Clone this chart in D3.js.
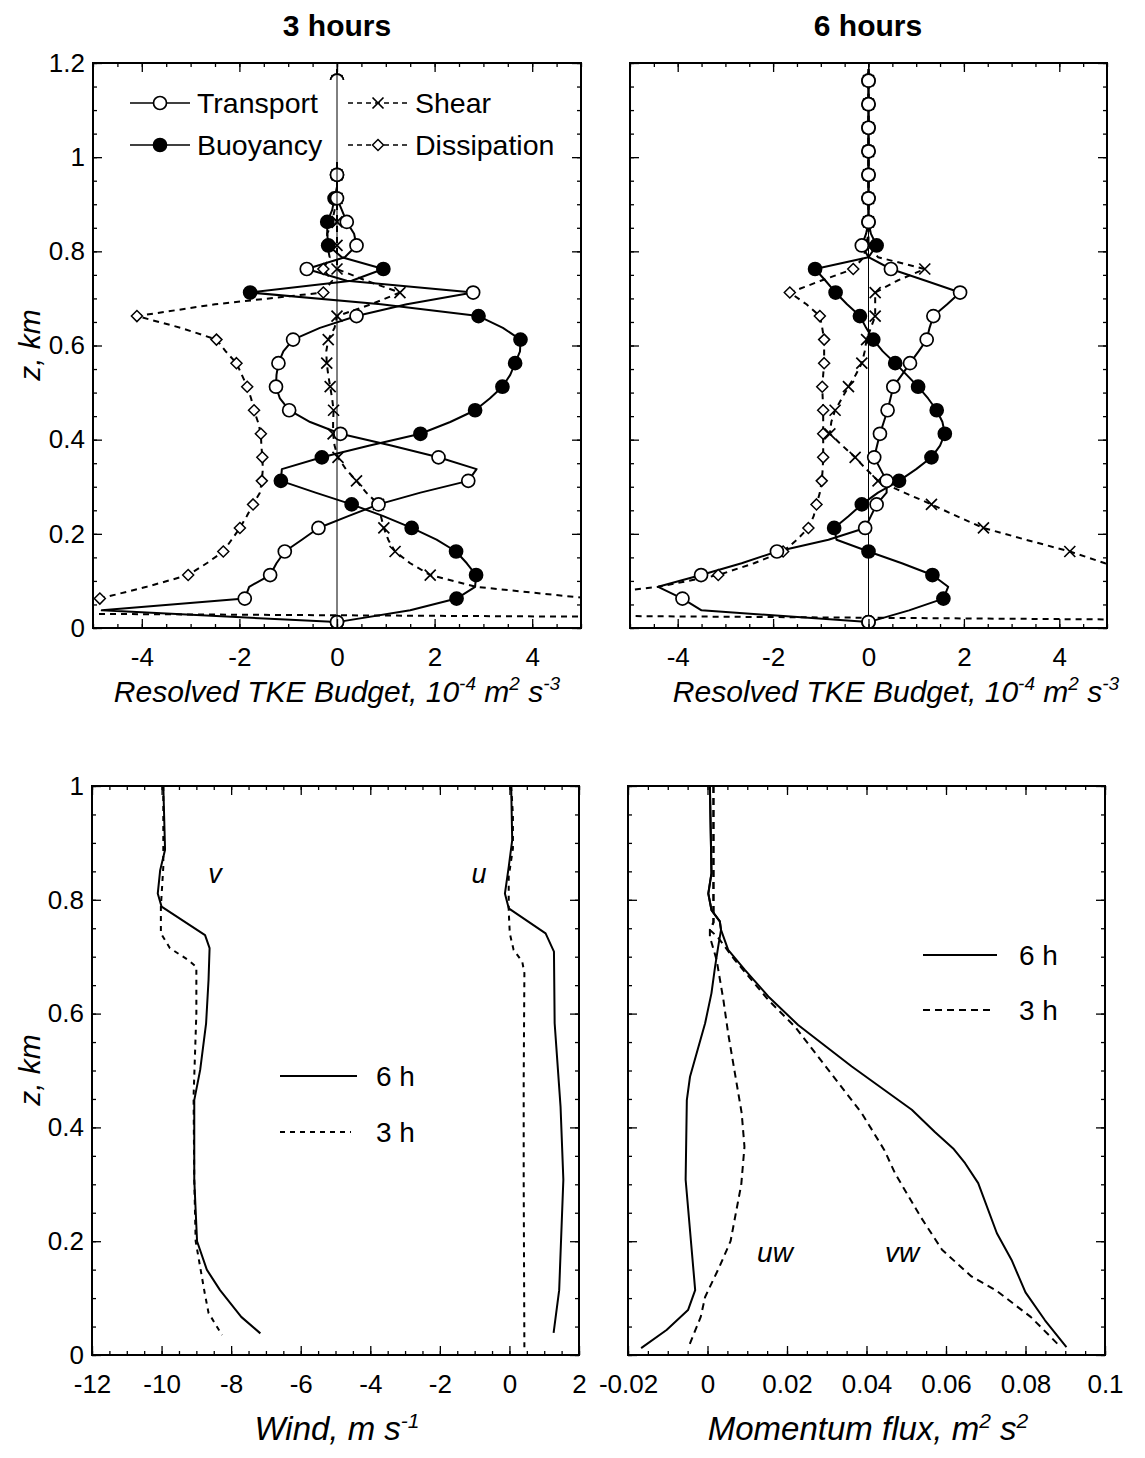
<!DOCTYPE html>
<html lang="en">
<head>
<meta charset="UTF-8">
<title>Resolved TKE budget, wind and momentum flux profiles</title>
<script src="https://d3js.org/d3.v7.min.js"></script>
<style>
  body { margin: 0; background: #fff; }
  svg { display: block; font-family: "Liberation Sans", Arial, Helvetica, sans-serif; }
  .tick text { font-size: 26px; fill: #000; }
  .tick line { stroke: #000; stroke-width: 1.3; }
</style>
</head>
<body>
<svg id="chart" width="1145" height="1458"></svg>
<script>
// ---- data -------------------------------------------------------------
// model levels (km) used by the TKE budget profiles, markers on every other level
const zLevels = [0.0125, 0.0375, 0.0625, 0.0875, 0.1125, 0.1375, 0.1625, 0.1875, 0.2125, 0.2375,
  0.2625, 0.2875, 0.3125, 0.3375, 0.3625, 0.3875, 0.4125, 0.4375, 0.4625, 0.4875,
  0.5125, 0.5375, 0.5625, 0.5875, 0.6125, 0.6375, 0.6625, 0.6875, 0.7125, 0.7375,
  0.7625, 0.7875, 0.8125, 0.8375, 0.8625, 0.8875, 0.9125, 0.9375, 0.9625, 0.9875,
  1.0125, 1.0375, 1.0625, 1.0875, 1.1125, 1.1375, 1.1625, 1.1875];

// 3 hours, 10^-4 m2 s-3
const transport3 = [0, -4.82, -1.89, -1.8, -1.37, -1.24, -1.07, -0.72, -0.38, 0.23,
  0.85, 1.71, 2.69, 2.86, 2.08, 1.11, 0.07, -0.55, -0.98, -1.17,
  -1.25, -1.24, -1.2, -1.1, -0.9, -0.35, 0.4, 1.43, 2.79, 0.2,
  -0.62, 0.16, 0.4, 0.35, 0.2, 0.1, 0, 0, 0, 0, 0, 0, 0, 0, 0, 0, 0, 0];
const buoyancy3 = [0, 1.5, 2.45, 2.83, 2.85, 2.66, 2.44, 2.04, 1.53, 0.95,
  0.3, -0.44, -1.15, -1.13, -0.31, 0.67, 1.71, 2.32, 2.83, 3.13,
  3.39, 3.55, 3.65, 3.75, 3.76, 3.4, 2.9, 0.9, -1.78, 0.3,
  0.95, 0.1, -0.18, -0.2, -0.2, -0.1, -0.05, 0, 0, 0, 0, 0, 0, 0, 0, 0, 0, 0];
const shear3 = [40, 15, 5.2, 2.85, 1.91, 1.5, 1.19, 1.05, 0.96, 0.9,
  0.85, 0.6, 0.4, 0.18, 0.02, -0.05, -0.08, -0.08, -0.07, -0.1,
  -0.14, -0.18, -0.21, -0.22, -0.18, -0.05, 0, 0.7, 1.29, 0.6,
  0, 0, 0, 0, 0, 0, 0, 0, 0, 0, 0, 0, 0, 0, 0, 0, 0, 0];
const dissipation3 = [25, -18, -4.86, -3.9, -3.05, -2.67, -2.33, -2.16, -1.99, -1.85,
  -1.72, -1.58, -1.54, -1.52, -1.53, -1.55, -1.56, -1.62, -1.7, -1.76,
  -1.84, -1.95, -2.06, -2.28, -2.47, -3.2, -4.1, -2.5, -0.28, -0.1,
  -0.28, -0.15, -0.2, -0.2, -0.1, -0.05, 0, 0, 0, 0, 0, 0, 0, 0, 0, 0, 0, 0];

// 6 hours
const transport6 = [0, -3.5, -3.9, -4.41, -3.51, -2.66, -1.92, -0.84, -0.07, 0.05,
  0.17, 0.38, 0.38, 0.25, 0.12, 0.18, 0.24, 0.32, 0.4, 0.46,
  0.52, 0.7, 0.87, 1.05, 1.22, 1.28, 1.36, 1.65, 1.92, 1.2,
  0.47, 0, -0.14, -0.05, 0, 0, 0, 0, 0, 0, 0, 0, 0, 0, 0, 0, 0, 0];
const buoyancy6 = [0, 0.85, 1.57, 1.67, 1.34, 0.7, 0, -0.67, -0.72, -0.42,
  -0.14, 0.2, 0.64, 1.0, 1.32, 1.5, 1.6, 1.55, 1.43, 1.25,
  1.04, 0.8, 0.56, 0.3, 0.1, -0.05, -0.18, -0.45, -0.69, -0.9,
  -1.12, 0, 0.17, 0.05, 0, 0, 0, 0, 0, 0, 0, 0, 0, 0, 0, 0, 0, 0];
const shear6 = [40, 25, 15, 10, 7, 4.96, 4.22, 3.3, 2.41, 1.85,
  1.32, 0.75, 0.2, -0.05, -0.28, -0.55, -0.81, -0.78, -0.7, -0.56,
  -0.42, -0.27, -0.14, -0.08, -0.04, 0.05, 0.14, 0.14, 0.14, 0.6,
  1.18, 0.2, 0, 0, 0, 0, 0, 0, 0, 0, 0, 0, 0, 0, 0, 0, 0, 0];
const dissipation6 = [13, -22, -6.5, -4.41, -3.15, -2.4, -1.79, -1.5, -1.26, -1.15,
  -1.09, -1.02, -0.98, -0.96, -0.95, -0.95, -0.95, -0.95, -0.95, -0.96,
  -0.97, -0.95, -0.93, -0.93, -0.93, -0.97, -1.02, -1.3, -1.65, -1.0,
  -0.32, -0.1, -0.05, 0, 0, 0, 0, 0, 0, 0, 0, 0, 0, 0, 0, 0, 0, 0];

// wind profiles, m/s
const vZ6 = [1.0, 0.888, 0.852, 0.811, 0.788, 0.738, 0.715, 0.659, 0.583, 0.501, 0.448, 0.308, 0.2, 0.15, 0.114, 0.067, 0.038];
const v6 = [-9.95, -9.9, -10.04, -10.11, -10.0, -8.75, -8.62, -8.65, -8.72, -8.89, -9.06, -9.06, -8.98, -8.7, -8.32, -7.71, -7.16];
const vZ3 = [1.0, 0.858, 0.788, 0.741, 0.715, 0.694, 0.682, 0.6, 0.454, 0.308, 0.2, 0.109, 0.074, 0.035];
const v3 = [-9.95, -9.95, -10.02, -10.02, -9.76, -9.23, -9.0, -9.0, -9.08, -9.06, -9.02, -8.76, -8.65, -8.26];
const uZ6 = [1.0, 0.905, 0.858, 0.811, 0.785, 0.741, 0.709, 0.583, 0.436, 0.308, 0.114, 0.039];
const u6 = [0.05, 0.08, -0.02, -0.13, -0.02, 1.04, 1.28, 1.3, 1.47, 1.55, 1.43, 1.27];
const uZ3 = [1.0, 0.95, 0.89, 0.841, 0.78, 0.741, 0.712, 0.691, 0.671, 0.483, 0.308, 0.01];
const u3 = [0.05, 0.1, 0.1, -0.02, -0.02, 0.01, 0.12, 0.37, 0.43, 0.41, 0.41, 0.43];

// momentum flux profiles, m2 s-2
const uwZ6 = [1.0, 0.847, 0.811, 0.782, 0.762, 0.747, 0.718, 0.682, 0.636, 0.583, 0.489, 0.448, 0.308, 0.114, 0.079, 0.044, 0.012];
const uw6 = [0.0006, 0.001, 0.0002, 0.001, 0.0031, 0.0034, 0.0027, 0.0019, 0.001, -0.0006, -0.0044, -0.0052, -0.0055, -0.0031, -0.0049, -0.0103, -0.0167];
const uwZ3 = [1.0, 0.83, 0.76, 0.747, 0.735, 0.694, 0.624, 0.565, 0.495, 0.425, 0.366, 0.3, 0.2, 0.155, 0.102, 0.067, 0.012];
const uw3 = [0.0015, 0.0015, 0.0015, 0.0006, 0.0006, 0.0023, 0.004, 0.0052, 0.0069, 0.0086, 0.0093, 0.0085, 0.0058, 0.003, -0.0006, -0.0017, -0.0049];
const vwZ6 = [1.0, 0.847, 0.811, 0.782, 0.762, 0.747, 0.712, 0.677, 0.63, 0.58, 0.507, 0.431, 0.392, 0.363, 0.337, 0.302, 0.214, 0.167, 0.11, 0.061, 0.014];
const vw6 = [0.0006, 0.001, 0.0002, 0.001, 0.0031, 0.0034, 0.0052, 0.0094, 0.0153, 0.0228, 0.0363, 0.0514, 0.0572, 0.0618, 0.0648, 0.0681, 0.0728, 0.0765, 0.08, 0.0849, 0.0903];
const vwZ3 = [1.0, 0.83, 0.76, 0.747, 0.735, 0.694, 0.624, 0.577, 0.501, 0.425, 0.36, 0.319, 0.243, 0.185, 0.138, 0.114, 0.067, 0.02];
const vw3 = [0.0015, 0.0015, 0.0015, 0.0006, 0.0025, 0.0069, 0.0153, 0.022, 0.0304, 0.0388, 0.0445, 0.0472, 0.0536, 0.059, 0.0664, 0.0725, 0.0813, 0.088];

// ticks and labels
const topXMajor = [-4, -2, 0, 2, 4];
const topXLabels = ["-4", "-2", "0", "2", "4"];
const topYMajor = [0, 0.2, 0.4, 0.6, 0.8, 1, 1.2];
const topYLabels = ["0", "0.2", "0.4", "0.6", "0.8", "1", "1.2"];
const windXMajor = [-12, -10, -8, -6, -4, -2, 0, 2];
const windXLabels = ["-12", "-10", "-8", "-6", "-4", "-2", "0", "2"];
const fluxXMajor = [-0.02, 0, 0.02, 0.04, 0.06, 0.08, 0.1];
const fluxXLabels = ["-0.02", "0", "0.02", "0.04", "0.06", "0.08", "0.1"];
const botYMajor = [0, 0.2, 0.4, 0.6, 0.8, 1];
const botYLabels = ["0", "0.2", "0.4", "0.6", "0.8", "1"];
const budgetNames = ["Transport", "Shear", "Buoyancy", "Dissipation"];
const timeNames = ["6 h", "3 h"];

// ---- drawing ----------------------------------------------------------
const svg = d3.select("#chart");

function makePanel(id, left, top, width, height, xDomain, yDomain) {
  const x = d3.scaleLinear().domain(xDomain).range([left, left + width]);
  const y = d3.scaleLinear().domain(yDomain).range([top + height, top]);
  svg.append("clipPath").attr("id", id).append("rect")
    .attr("x", left).attr("y", top).attr("width", width).attr("height", height);
  const plot = svg.append("g").attr("clip-path", "url(#" + id + ")");
  return { x, y, plot, left, top, width, height };
}

function drawAxes(p, xMinor, xMajor, xLabels, yMinor, yMajor, yLabels) {
  const bottom = p.top + p.height, right = p.left + p.width;
  const put = (axis, tx, ty) => {
    const g = svg.append("g").attr("transform", `translate(${tx},${ty})`).call(axis);
    g.select(".domain").remove();
    return g;
  };
  put(d3.axisBottom(p.x).tickValues(xMinor).tickSize(-4).tickFormat(""), 0, bottom);
  put(d3.axisTop(p.x).tickValues(xMinor).tickSize(-4).tickFormat(""), 0, p.top);
  put(d3.axisTop(p.x).tickValues(xMajor).tickSize(-9).tickFormat(""), 0, p.top);
  put(d3.axisBottom(p.x).tickValues(xMajor).tickSize(-9).tickPadding(20)
    .tickFormat((d, i) => xLabels[i]), 0, bottom);
  put(d3.axisLeft(p.y).tickValues(yMinor).tickSize(-4).tickFormat(""), p.left, 0);
  put(d3.axisRight(p.y).tickValues(yMinor).tickSize(-4).tickFormat(""), right, 0);
  put(d3.axisRight(p.y).tickValues(yMajor).tickSize(-9).tickFormat(""), right, 0);
  put(d3.axisLeft(p.y).tickValues(yMajor).tickSize(-9).tickPadding(8)
    .tickFormat((d, i) => yLabels ? yLabels[i] : ""), p.left, 0);
  svg.append("rect").attr("x", p.left).attr("y", p.top)
    .attr("width", p.width).attr("height", p.height)
    .attr("fill", "none").attr("stroke", "#000").attr("stroke-width", 2);
}

function profile(p, zs, vals, dash, width) {
  const line = d3.line().x(d => p.x(d[1])).y(d => p.y(d[0]));
  p.plot.append("path").datum(zs.map((z, i) => [z, vals[i]]))
    .attr("d", line).attr("fill", "none").attr("stroke", "#000")
    .attr("stroke-width", width || 2).attr("stroke-dasharray", dash || null)
    .attr("stroke-linejoin", "round");
}

function marker(g, kind, cx, cy) {
  if (kind === "open" || kind === "filled") {
    g.append("circle").attr("cx", cx).attr("cy", cy).attr("r", 6.5)
      .attr("fill", kind === "filled" ? "#000" : "#fff").attr("stroke", "#000").attr("stroke-width", 1.7);
  } else if (kind === "diamond") {
    const s = 5.5;
    g.append("path").attr("d", `M${cx},${cy - s}L${cx + s},${cy}L${cx},${cy + s}L${cx - s},${cy}Z`)
      .attr("fill", "#fff").attr("stroke", "#000").attr("stroke-width", 1.5);
  } else {
    const s = 5.5;
    g.append("path").attr("d", `M${cx - s},${cy - s}L${cx + s},${cy + s}M${cx - s},${cy + s}L${cx + s},${cy - s}`)
      .attr("fill", "none").attr("stroke", "#000").attr("stroke-width", 1.7);
  }
}

function budgetPanel(p, series) {
  // series: [values, kind, dash]
  series.forEach(s => profile(p, zLevels, s[0], s[2]));
  series.forEach(s => {
    zLevels.forEach((z, k) => {
      if (k % 2 === 0 && k < 47) marker(p.plot, s[1], p.x(s[0][k]), p.y(z));
    });
  });
}

function richText(sel, parts, supSize) {
  parts.forEach((t, i) => {
    const sup = i % 2 === 1;
    sel.append("tspan").text(t)
      .attr("dy", sup ? -12 : (i > 0 ? 12 : 0))
      .attr("font-size", sup ? supSize : null);
  });
}

function text(x, y, str, size, opts) {
  const o = opts || {};
  return svg.append("text").attr("x", x).attr("y", y).text(str)
    .attr("font-size", size).attr("text-anchor", o.anchor || "start")
    .attr("font-style", o.italic ? "italic" : null)
    .attr("font-weight", o.bold ? "bold" : null);
}

const topXMinor = d3.range(-5, 5.001, 0.5);
const topYMinor = d3.range(0, 1.2001, 0.05);
const botYMinor = d3.range(0, 1.0001, 0.05);

// top left: 3 hours
const tl = makePanel("clipTL", 93, 63, 488, 565, [-5, 5], [0, 1.2]);
budgetPanel(tl, [
  [dissipation3, "diamond", "6,5"],
  [shear3, "cross", "6,5"],
  [buoyancy3, "filled", null],
  [transport3, "open", null]
]);
// legend box
tl.plot.append("rect").attr("x", 122).attr("y", 80).attr("width", 448).attr("height", 82).attr("fill", "#fff");
tl.plot.append("line").attr("x1", tl.x(0)).attr("x2", tl.x(0)).attr("y1", tl.y(0)).attr("y2", tl.y(1.2))
  .attr("stroke", "#000").attr("stroke-width", 1);
drawAxes(tl, topXMinor, topXMajor, topXLabels, topYMinor, topYMajor, topYLabels);

const legendRows = [[budgetNames[0], "open", null, 130, 103], [budgetNames[1], "cross", "5,4", 348, 103],
  [budgetNames[2], "filled", null, 130, 145], [budgetNames[3], "diamond", "5,4", 348, 145]];
legendRows.forEach(r => {
  svg.append("line").attr("x1", r[3]).attr("x2", r[3] + 60).attr("y1", r[4]).attr("y2", r[4])
    .attr("stroke", "#000").attr("stroke-width", 1.7).attr("stroke-dasharray", r[2]);
  marker(svg, r[1], r[3] + 30, r[4]);
  text(r[3] + 67, r[4] + 10, r[0], 28.5);
});

// top right: 6 hours
const tr = makePanel("clipTR", 630, 63, 477, 565, [-5, 5], [0, 1.2]);
tr.plot.append("line").attr("x1", tr.x(0)).attr("x2", tr.x(0)).attr("y1", tr.y(0)).attr("y2", tr.y(1.2))
  .attr("stroke", "#000").attr("stroke-width", 1);
budgetPanel(tr, [
  [dissipation6, "diamond", "6,5"],
  [shear6, "cross", "6,5"],
  [buoyancy6, "filled", null],
  [transport6, "open", null]
]);
drawAxes(tr, topXMinor, topXMajor, topXLabels, topYMinor, topYMajor, null);

// bottom left: wind
const bl = makePanel("clipBL", 92, 786, 487, 569, [-12, 2], [0, 1]);
profile(bl, vZ6, v6, null);
profile(bl, vZ3, v3, "5,5");
profile(bl, uZ6, u6, null);
profile(bl, uZ3, u3, "5,5");
drawAxes(bl, d3.range(-12, 2.001, 0.5), windXMajor, windXLabels, botYMinor, botYMajor, botYLabels);
text(215, 883, "v", 27, { italic: true, anchor: "middle" });
text(479, 883, "u", 27, { italic: true, anchor: "middle" });

// bottom right: momentum flux
const br = makePanel("clipBR", 628, 786, 477, 569, [-0.02, 0.1], [0, 1]);
profile(br, uwZ6, uw6, null);
profile(br, uwZ3, uw3, "7,5");
profile(br, vwZ6, vw6, null);
profile(br, vwZ3, vw3, "7,5");
drawAxes(br, d3.range(-0.02, 0.1001, 0.005), fluxXMajor, fluxXLabels, botYMinor, botYMajor, null);
text(775, 1262, "uw", 28, { italic: true, anchor: "middle" });
text(902, 1262, "vw", 28, { italic: true, anchor: "middle" });

// time legends
[[280, 1076, 1132, 77, "5,5"], [923, 955, 1010, 74, "7,5"]].forEach(l => {
  svg.append("line").attr("x1", l[0]).attr("x2", l[0] + l[3]).attr("y1", l[1]).attr("y2", l[1])
    .attr("stroke", "#000").attr("stroke-width", 2);
  svg.append("line").attr("x1", l[0]).attr("x2", l[0] + l[3] - 6).attr("y1", l[2]).attr("y2", l[2])
    .attr("stroke", "#000").attr("stroke-width", 2).attr("stroke-dasharray", l[4]);
  text(l[0] + 96, l[1] + 10, timeNames[0], 28);
  text(l[0] + 96, l[2] + 10, timeNames[1], 28);
});

// titles and axis labels
text(337, 36, "3 hours", 30, { bold: true, anchor: "middle" });
text(868, 36, "6 hours", 30, { bold: true, anchor: "middle" });

richText(text(337, 702, "", 30, { italic: true, anchor: "middle" }),
  ["Resolved TKE Budget, 10", "-4", " m", "2", " s", "-3"], 19);
richText(text(896, 702, "", 30, { italic: true, anchor: "middle" }),
  ["Resolved TKE Budget, 10", "-4", " m", "2", " s", "-3"], 19);
richText(text(337, 1440, "", 33, { italic: true, anchor: "middle" }), ["Wind, m s", "-1"], 21);
richText(text(868, 1440, "", 33, { italic: true, anchor: "middle" }), ["Momentum flux, m", "2", " s", "2"], 21);

[[345], [1070]].forEach(c => {
  svg.append("text").attr("transform", `translate(40,${c[0]}) rotate(-90)`)
    .attr("text-anchor", "middle").attr("font-size", 30).attr("font-style", "italic").text("z, km");
});
</script>
</body>
</html>
